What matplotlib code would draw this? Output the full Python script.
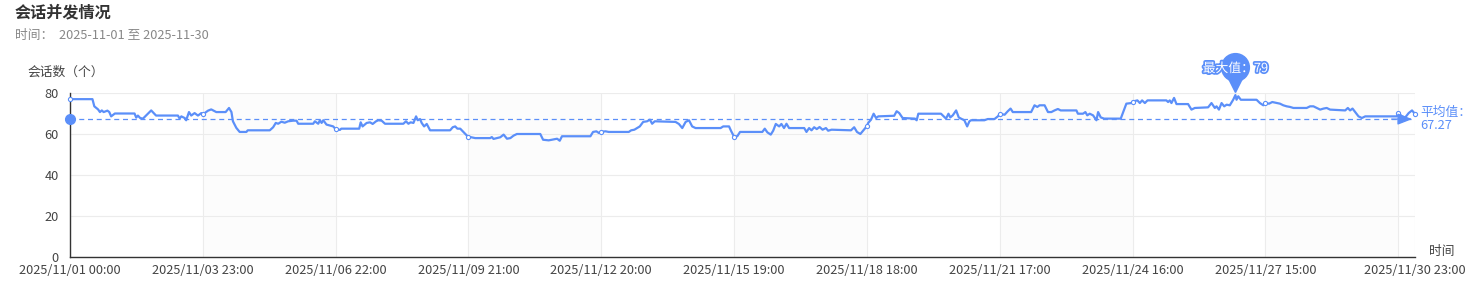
import matplotlib
matplotlib.use("Agg")
import matplotlib.pyplot as plt
import matplotlib.patheffects as pe
from matplotlib.transforms import offset_copy

plt.rcParams['font.family'] = ['Noto Sans CJK SC', 'DejaVu Sans']

# hours since 2025-11-01 00:00 and concurrent sessions
hours = [0, 12, 13, 15, 16, 17, 18, 20, 21, 22, 24, 34.5, 35.4, 36.3, 37.5, 39, 43.4, 46,
         57.7, 58.6, 59.5, 61.3, 62.1, 63.6, 64.8, 66.6, 68.4, 70.2, 71, 72, 73.8, 75.5,
         78.2, 83.2, 85, 86.3, 87.1, 88.9, 90.7, 94.3, 95, 106.8, 108.6, 110, 111.3, 113,
         114.8, 116.6, 119.3, 121.1, 122, 130, 130.9, 132.7, 133.6, 134.5, 135.4, 137.1,
         140.7, 142, 144.3, 145, 154.6, 155.4, 156.4, 158.6, 160.4, 161.8, 163.6, 164.8,
         166.6, 168.4, 178.2, 179.6, 180.9, 182.1, 183.6, 185, 185.9, 187.1, 188, 189.3,
         190.7, 192.5, 203.2, 204.6, 205.9, 207.1, 208.6, 210, 212.1, 213, 216.6, 224.6,
         225.5, 226.4, 228.2, 230, 231.8, 233.6, 235.4, 237.1, 238.9, 251.4, 252.9, 255.9,
         260.4, 261.8, 263, 278.2, 279.6, 281.4, 282.7, 284, 286.3, 288, 298.7, 300, 301.7,
         303.2, 304.6, 306.4, 308.5, 310, 311.2, 312.6, 323.7, 325.5, 327.3, 329.1, 330.9,
         332.6, 334.4, 347.8, 349.2, 352.3, 353.5, 355, 356.7, 358.2, 370.1, 371.4, 372.8,
         374.6, 375.9, 377.3, 379.1, 380.3, 381.7, 383, 384.4, 392.5, 393.7, 395.1, 396.4,
         397.8, 399.2, 400.7, 402.3, 404.1, 405.3, 407.1, 417.5, 419.2, 420.7, 422.5, 423.7,
         425.5, 426, 426.7, 428.2, 429.6, 430.9, 432.1, 440.6, 441.9, 443.3, 445.1, 451.7,
         452.6, 453.5, 465.6, 467.1, 468.3, 469.6, 470.6, 471.9, 473.7, 475.1, 476.3, 478.1,
         479.6, 480.8, 481.7, 488.8, 490.6, 494.2, 496, 497, 499.6, 501.3, 502.8, 504,
         513.8, 515.6, 517.1, 518.3, 521, 522.8, 524.6, 526.3, 528.1, 529.6, 538, 538.8,
         541.5, 542.8, 543.8, 545.1, 546.9, 548.7, 549.6, 551, 552.8, 561.7, 563.5, 564.7,
         567.4, 568, 570.6, 571.9, 573.1, 574.6, 576, 578.1, 586.1, 587, 587.9, 588.8,
         590.2, 591.5, 597.7, 599.5, 601.3, 608.4, 610.2, 612, 612.9, 614.2, 615.6, 617,
         618.3, 620, 621.8, 623, 623.6, 624.5, 625.9, 634.3, 636.1, 637.9, 639, 641, 642.7,
         645.1, 646.8, 648.6, 650.4, 652.2, 654, 661.1, 662.9, 664.7, 666.5, 668.3, 670.1,
         671.8, 673.6, 681.7, 683.1, 684.3, 685.6, 687, 688.8, 690.6, 692.4, 709.3, 710,
         712, 713.8, 715.6, 717.4, 719]
sessions = [77, 77, 73.5, 72, 70.7, 71.5, 70.7, 71.4, 70.7, 68.6, 70, 70, 68, 69, 67.8, 67.5,
            71.5, 69, 69, 67.5, 68.6, 67.8, 66.7, 70.7, 69, 70.2, 69, 70.2, 69.8, 70.2, 71.4,
            72, 70.7, 70.7, 72.7, 70.7, 66.2, 63, 61, 61, 61.8, 61.8, 63.3, 65.4, 65, 66,
            65.5, 66.2, 66.5, 66.5, 65, 65, 66.2, 65, 66.7, 65.4, 66.7, 64.6, 63.7, 62.4, 62,
            62.6, 62.6, 65.7, 63.7, 65.4, 65.7, 64.9, 66.2, 66.7, 66.5, 65, 65, 66.2, 65,
            65.7, 65.4, 68.6, 66.7, 67.3, 65.4, 63.7, 64.9, 61.8, 61.8, 63.3, 63.7, 62.6,
            62.6, 61.3, 59.3, 58.7, 58, 58, 58.5, 57.6, 58, 58.4, 59.7, 57.7, 58, 59.2, 60,
            60, 57.2, 56.9, 57.7, 56.7, 58.9, 58.9, 61, 61.3, 60.5, 61.1, 61.3, 61, 61, 61.8,
            62.1, 62.9, 63.7, 65.9, 66.2, 67, 65, 66.2, 65.9, 64.9, 62.9, 65.9, 66.7, 63.7,
            62.9, 62.9, 63.7, 63.7, 61.3, 58.7, 58.9, 61, 61, 62.6, 60.8, 59.7, 61.6, 64.9,
            63.7, 64.9, 62.9, 65, 62.9, 62.9, 61, 62.9, 61.8, 63.3, 62.4, 63.4, 62.1, 62.9,
            61.6, 62.1, 61.8, 63.3, 61, 60, 61.3, 63.3, 63.9, 65.4, 67, 69.9, 67.8, 68.6,
            68.9, 71.1, 70.2, 67.8, 67.5, 66.7, 69.9, 69.9, 68.6, 67.5, 69.9, 68.1, 69.1,
            71.5, 68.1, 67.5, 66.7, 63.7, 66.2, 66.7, 66.7, 67.3, 67.3, 68.6, 69.8, 69.4,
            71.1, 72.4, 70.7, 70.7, 74, 73.2, 74, 74, 70.7, 70.7, 71.5, 72.2, 71.5, 71.5,
            69.9, 69.9, 70.7, 69.1, 69.9, 69.1, 66.7, 70.7, 68.1, 67.5, 67.5, 71.9, 74.8,
            75.1, 75.8, 76.4, 75.1, 76.4, 75.1, 76.4, 76.4, 76.4, 75.6, 76.4, 75.1, 77.6,
            74.6, 74.6, 71.9, 72.7, 73, 75.1, 72.7, 73.5, 71.9, 75.1, 73.5, 74.3, 74, 76.7,
            79, 76.7, 78.4, 76.7, 76.7, 75.1, 74, 75, 74.8, 75.6, 75.1, 74.8, 74, 73.5,
            73.2, 72.7, 72.7, 73.5, 73.5, 72.7, 71.9, 72.4, 72.7, 71.9, 71.5, 72.7, 71.5,
            72.4, 70.7, 68.6, 67.8, 68.6, 68.6, 70.4, 68.6, 68.1, 70.2, 71.5, 69.8]
avg_value = 67.27

symbol_hours = [0, 71, 142, 213, 284, 355, 426, 497, 568, 639, 710, 719]
grid_hours = [0, 71, 142, 213, 284, 355, 426, 497, 568, 639, 710, 719]
tick_labels = ['2025/11/01 00:00', '2025/11/03 23:00', '2025/11/06 22:00',
               '2025/11/09 21:00', '2025/11/12 20:00', '2025/11/15 19:00',
               '2025/11/18 18:00', '2025/11/21 17:00', '2025/11/24 16:00',
               '2025/11/27 15:00', '', '2025/11/30 23:00']
y_ticks = [0, 20, 40, 60, 80]

blue = '#5B8FF9'
fs = 9.2

fig = plt.figure(figsize=(14.75, 3.02), dpi=100)
ax = fig.add_axes([70 / 1475, 45 / 302, 1345 / 1475, 164 / 302])

# split area bands
for i in range(len(grid_hours) - 2):
    if i % 2 == 1:
        ax.axvspan(grid_hours[i], grid_hours[i + 1], color='#fcfcfc', zorder=0, lw=0)

ax.plot(hours, sessions, color=blue, lw=1.6, zorder=3, solid_joinstyle='round')
mk = [hours.index(h) for h in symbol_hours]
ax.plot(hours, sessions, ls='none', marker='o', markevery=mk, ms=3,
        mfc='white', mec=blue, mew=0.8, zorder=4, clip_on=False)

# average mark line
ax.plot([0, 717], [avg_value, avg_value], color=blue, lw=0.9, ls=(0, (4, 3)), zorder=3)
ax.plot([0], [avg_value], marker='o', ms=7, color=blue, zorder=5, clip_on=False)
ax.annotate('', xy=(719, avg_value), xytext=(705, avg_value),
            arrowprops=dict(arrowstyle='-|>,head_length=0.9,head_width=0.35',
                            color=blue, lw=0.9), zorder=5, annotation_clip=False)
ax.annotate('平均值：\n67.27', xy=(719, avg_value), xytext=(4, 0),
            textcoords='offset points', color=blue, fontsize=fs, va='center',
            ha='left', linespacing=0.95, annotation_clip=False)

# max pin
mi = sessions.index(max(sessions))
px, py = hours[mi], sessions[mi]
tr_c = offset_copy(ax.transData, fig=fig, x=0, y=20, units='points')
tr_t = offset_copy(ax.transData, fig=fig, x=0, y=8, units='points')
ax.plot([px], [py], marker='o', ms=20, color=blue, transform=tr_c, zorder=6, clip_on=False)
ax.plot([px], [py], marker='v', ms=11, color=blue, transform=tr_t, zorder=6, clip_on=False)
ax.annotate('最大值：%d' % max(sessions), xy=(px, py), xytext=(0, 19),
            textcoords='offset points', ha='center', va='center', color='white',
            fontsize=fs, zorder=7, annotation_clip=False,
            path_effects=[pe.withStroke(linewidth=2.5, foreground=blue)])

ax.set_xlim(0, 719)
ax.set_ylim(0, 80)
ax.set_xticks(grid_hours)
ax.set_xticklabels(tick_labels)
ax.set_yticks(y_ticks)
ax.tick_params(length=0, labelsize=fs, labelcolor='#444')
ax.tick_params(axis='x', pad=5)
ax.tick_params(axis='y', pad=8)
ax.grid(True, color='#ececec', lw=0.8)
ax.set_axisbelow(True)
for s in ['top', 'right']:
    ax.spines[s].set_visible(False)
for s in ['left', 'bottom']:
    ax.spines[s].set_color('#333333')
    ax.spines[s].set_linewidth(1)

fig.text(15 / 1475, 1 - 12 / 302, '会话并发情况', fontsize=11.6, fontweight='bold',
         color='#333', va='center', ha='left')
fig.text(15 / 1475, 1 - 35 / 302, '时间：  2025-11-01 至 2025-11-30', fontsize=fs,
         color='#888', va='center', ha='left')
fig.text(66 / 1475, 1 - 72 / 302, '会话数（个）', fontsize=fs, color='#444',
         va='center', ha='center')
fig.text(1442 / 1475, 1 - 251 / 302, '时间', fontsize=fs, color='#444',
         va='center', ha='center')

fig.savefig('out.png', dpi=100)
